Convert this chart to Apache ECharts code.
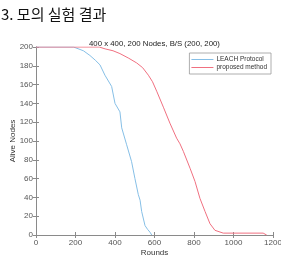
<!DOCTYPE html>
<html><head><meta charset="utf-8">
<script src="https://cdn.jsdelivr.net/npm/echarts@6/dist/echarts.min.js"></script>
<style>html,body{margin:0;padding:0;background:#fff}#c{width:281px;height:255px}</style>
</head><body><div id="c"></div>
<script>
const pageHeading = '3. 모의 실험 결과';
const chartTitle = '400 x 400, 200 Nodes, B/S (200, 200)';
const seriesNames = ['LEACH Protocol', 'proposed method'];
const xTicks = [0, 200, 400, 600, 800, 1000, 1200];
const yTicks = [0, 20, 40, 60, 80, 100, 120, 140, 160, 180, 200];
const leachData = [[0,200],[190,200],[197,199],[240,196],[273,191],[300,186],[324,181],[349,170],[383,158],[400,140],[425,131],[434,114],[459,96],[484,78],[501,60],[518,43],[527,37],[535,25],[552,10],[565,6],[577,3],[586,0]];
const proposedData = [[0,200],[320,200],[350,198],[390,196],[425,193],[470,188],[510,183],[540,178],[569,170],[590,163],[611,153],[645,136],[678,119],[712,103],[729,97],[746,89],[780,71],[805,57],[830,39],[856,25],[881,12],[906,5],[948,2],[1150,2],[1160,1],[1168,0]];

const chart = echarts.init(document.getElementById('c'), null, {renderer: 'canvas'});
const axisCol = '#8a8a8a';
const labCol = '#555';
const F = 'Liberation Sans, Arial, sans-serif';
chart.setOption({
  animation: false,
  backgroundColor: '#fff',
  title: [
    {text: pageHeading, left: -4, top: 2, textStyle: {fontFamily: 'Noto Sans CJK KR', fontSize: 15, fontWeight: 'normal', color: '#111'}},
    {text: chartTitle, left: 84, top: 35, textStyle: {fontFamily: F, fontSize: 7.8, fontWeight: 'normal', color: '#222'}}
  ],
  grid: {left: 36, right: 8, top: 47, bottom: 20, show: false, containLabel: false, outerBoundsMode: 'none'},
  legend: {
    orient: 'vertical', right: 10, top: 53, itemWidth: 22, itemHeight: 1, itemGap: 1,
    icon: 'rect', padding: [3, 4, 3, 2], borderColor: '#999', borderWidth: 0.8, backgroundColor: '#fff',
    textStyle: {fontFamily: F, fontSize: 6.5, color: '#333', padding: [0, 0, 0, -2]},
    data: seriesNames
  },
  xAxis: [
    {type: 'value', min: xTicks[0], max: xTicks[xTicks.length-1], interval: 200,
     name: 'Rounds', nameLocation: 'middle', nameGap: 14, nameMoveOverlap: false, nameTextStyle: {fontFamily: F, fontSize: 8, color: '#333'},
     axisLine: {show: true, lineStyle: {color: axisCol, width: 1}}, axisTick: {inside: true, length: 3, lineStyle: {color: axisCol}},
     axisLabel: {fontFamily: F, fontSize: 8, color: labCol, margin: 4, formatter: v => String(v)}, splitLine: {show: false}},
    {type: 'value', position: 'top', min: 0, max: 1200, interval: 200,
     axisLine: {show: true, lineStyle: {color: axisCol, width: 1}}, axisTick: {inside: true, length: 3, lineStyle: {color: axisCol}},
     axisLabel: {show: false}, splitLine: {show: false}}
  ],
  yAxis: [
    {type: 'value', min: yTicks[0], max: yTicks[yTicks.length-1], interval: 20,
     name: 'Alive Nodes', nameLocation: 'middle', nameGap: 19, nameMoveOverlap: false, nameTextStyle: {fontFamily: F, fontSize: 8, color: '#333'},
     axisLine: {show: true, lineStyle: {color: axisCol, width: 1}}, axisTick: {inside: true, length: 3, lineStyle: {color: axisCol}},
     axisLabel: {fontFamily: F, fontSize: 8, color: labCol, margin: 3, formatter: v => String(v)}, splitLine: {show: false}},
    {type: 'value', position: 'right', min: 0, max: 200, interval: 20,
     axisLine: {show: true, lineStyle: {color: axisCol, width: 1}}, axisTick: {inside: true, length: 3, lineStyle: {color: axisCol}},
     axisLabel: {show: false}, splitLine: {show: false}}
  ],
  series: [
    {name: seriesNames[0], type: 'line', data: leachData, showSymbol: false, itemStyle: {color: '#86bfe6'}, lineStyle: {width: 1, color: '#86bfe6'}, z: 3},
    {name: seriesNames[1], type: 'line', data: proposedData, showSymbol: false, itemStyle: {color: '#f07080'}, lineStyle: {width: 1, color: '#f07080'}, z: 4}
  ]
});
</script></body></html>
